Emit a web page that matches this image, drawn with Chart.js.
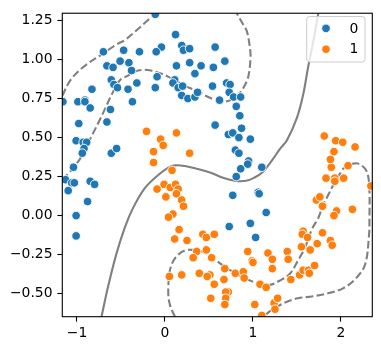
<!DOCTYPE html>
<html>
<head>
<meta charset="utf-8">
<script src="https://cdn.jsdelivr.net/npm/chart.js@4.4.1/dist/chart.umd.min.js"></script>
<style>
html,body{margin:0;padding:0;background:#fff;}
canvas{display:block;}
</style>
</head>
<body>
<canvas id="c" width="381" height="351"></canvas>
<script>
// ---------- data ----------
const categories = ['0', '1'];
const seriesColors = ['#1f77b4', '#ff7f0e'];

const xTicks = [-1, 0, 1, 2];
const yTicks = [-0.5, -0.25, 0, 0.25, 0.5, 0.75, 1, 1.25];
const xLimits = [-1.167, 2.356];
const yLimits = [-0.648, 1.297];

const class0Points = [
 [-0.11,1.29],[-0.04,1.08],[-0.10,1.05],[-0.47,1.06],[-0.29,1.05],[-0.70,1.05],[-0.51,0.99],[-0.41,0.98],
 [-0.66,0.96],[-0.59,0.95],[-0.38,0.93],[-0.09,0.89],[-0.61,0.87],[-0.58,0.84],[-0.54,0.82],[-0.32,0.85],
 [-0.42,0.81],[-0.11,0.82],[-0.83,0.81],[-0.37,0.73],[-1.16,0.73],[-0.99,0.73],[-0.91,0.74],[-0.91,0.73],
 [-0.85,0.69],[-0.62,0.68],[-0.66,0.60],[-0.98,0.59],[-1.01,0.48],[-0.93,0.47],[-0.89,0.47],[-0.92,0.43],
 [-0.94,0.40],[-0.61,0.40],[-0.55,0.43],[-1.04,0.31],[0.12,1.16],[0.19,1.09],[0.21,1.06],[0.28,1.07],
 [0.57,1.08],[0.13,0.96],[0.28,0.98],[0.41,0.96],[0.34,0.91],[0.55,0.95],[0.68,0.99],[0.11,0.87],
 [0.09,0.85],[0.15,0.82],[0.20,0.83],[0.19,0.77],[0.26,0.75],[0.34,0.76],[0.37,0.79],[0.54,0.83],
 [0.70,0.85],[0.74,0.84],[0.73,0.79],[0.78,0.76],[0.86,0.76],[0.62,0.74],[0.81,0.70],[0.85,0.64],
 [0.57,0.58],[0.87,0.56],[0.72,0.52],[0.77,0.53],[0.84,0.50],[0.97,0.49],[0.80,0.42],[0.84,0.40],
 [0.95,0.35],[0.94,0.33],[1.10,0.31],[0.86,0.30],[0.81,0.25],[0.77,0.13],[1.06,0.15],[1.07,0.14],
 [1.15,0.02],[0.73,-0.07],[0.97,-0.05],[1.03,-0.14],[-1.13,0.23],[-1.06,0.21],[-1.03,0.21],[-0.85,0.22],
 [-0.80,0.20],[-1.10,0.16],[-0.88,0.09],[-1.01,0.00],[-1.01,-0.13]
];

const class1Points = [
 [-0.21,0.54],[-0.05,0.49],[-0.02,0.45],[-0.13,0.41],[-0.13,0.34],[0.13,0.53],[0.28,0.40],[0.08,0.29],
 [-0.01,0.20],[-0.09,0.17],[0.06,0.18],[0.12,0.20],[0.15,0.17],[0.01,0.12],[0.13,0.14],[0.19,0.10],
 [0.21,0.06],[0.09,0.01],[0.04,-0.01],[0.16,-0.09],[0.11,-0.15],[0.25,-0.16],[0.43,-0.12],[0.47,-0.14],
 [0.56,-0.12],[0.36,-0.23],[0.47,-0.22],[0.32,-0.27],[0.53,-0.27],[0.94,-0.23],[0.99,-0.29],[1.00,-0.30],
 [1.17,-0.24],[0.68,-0.34],[0.39,-0.37],[0.51,-0.38],[0.48,-0.39],[0.80,-0.37],[0.89,-0.36],[0.05,-0.39],
 [0.19,-0.38],[0.67,-0.41],[0.90,-0.40],[0.56,-0.44],[1.08,-0.44],[1.15,-0.46],[0.72,-0.49],[0.69,-0.49],
 [0.69,-0.53],[0.52,-0.53],[0.68,-0.57],[1.02,-0.57],[1.10,-0.64],[1.24,-0.56],[1.28,-0.53],[1.25,-0.60],
 [1.22,-0.28],[1.22,-0.34],[1.39,-0.23],[1.40,-0.28],[1.43,-0.41],[1.53,-0.38],[1.57,-0.35],[1.63,-0.35],
 [1.64,-0.37],[1.70,-0.32],[1.55,-0.20],[1.65,-0.22],[1.73,-0.18],[1.57,-0.10],[1.56,-0.12],[1.62,-0.14],
 [1.79,-0.11],[1.88,-0.16],[1.90,-0.19],[1.72,0.10],[1.76,0.12],[1.79,0.06],[1.95,0.03],[1.92,0.00],
 [2.13,0.04],[1.83,0.24],[1.93,0.24],[1.93,0.22],[2.03,0.24],[2.34,0.19],[1.89,0.31],[2.08,0.32],
 [1.81,0.51],[1.94,0.48],[2.02,0.47],[2.16,0.44],[1.92,0.41],[1.88,0.36]
];

// decision boundary (level 0)
const boundaryLine = [
 [-0.722,-0.650],[-0.648,-0.458],[-0.553,-0.247],[-0.458,-0.078],[-0.364,0.048],[-0.231,0.175],
 [-0.080,0.259],[0.034,0.306],[0.114,0.322],[0.227,0.318],[0.341,0.303],[0.511,0.277],[0.659,0.242],
 [0.807,0.222],[0.920,0.223],[1.011,0.242],[1.102,0.274],[1.216,0.354],[1.307,0.428],[1.386,0.483],
 [1.500,0.628],[1.572,0.780],[1.628,0.956],[1.685,1.114],[1.742,1.297]
];
// margin lines (levels -1 / +1)
const marginOuterTop = [
 [-1.167,0.768],[-1.074,0.869],[-0.920,0.956],[-0.716,1.034],[-0.549,1.097],[-0.458,1.124],
 [-0.341,1.179],[-0.227,1.236],[-0.108,1.297]
];
const marginInnerTop = [
 [-1.167,0.230],[-1.080,0.281],[-1.028,0.318],[-0.966,0.363],[-0.886,0.451],[-0.818,0.527],
 [-0.739,0.616],[-0.670,0.698],[-0.602,0.780],[-0.515,0.866],[-0.432,0.894],[-0.341,0.923],
 [-0.250,0.934],[-0.159,0.930],[-0.057,0.913],[0.034,0.891],[0.133,0.861],[0.227,0.831],
 [0.322,0.808],[0.398,0.787],[0.511,0.755],[0.648,0.731],[0.758,0.743],[0.852,0.787],
 [0.903,0.831],[0.947,0.892],[0.972,1.008],[0.966,1.072],[0.932,1.179],[0.890,1.223],[0.815,1.297]
];
const marginBottom = [
 [0.114,-0.650],[0.057,-0.574],[0.0375,-0.500],[0.049,-0.373],[0.080,-0.308],[0.136,-0.258],
 [0.227,-0.223],[0.318,-0.220],[0.409,-0.229],[0.511,-0.258],[0.6625,-0.321],[0.815,-0.373],
 [0.966,-0.416],[1.080,-0.440],[1.193,-0.444],[1.307,-0.416],[1.420,-0.373],[1.511,-0.289],
 [1.591,-0.205],[1.670,-0.087],[1.742,-0.015],[1.799,0.070],[1.856,0.133],[1.913,0.196],
 [1.969,0.249],[2.026,0.301],[2.083,0.322],[2.140,0.333],[2.197,0.333],[2.273,0.301],
 [2.310,0.249],[2.324,0.154],[2.324,-0.004],[2.318,-0.131],[2.273,-0.315],[2.159,-0.409],
 [2.023,-0.466],[1.875,-0.495],[1.682,-0.517],[1.511,-0.530],[1.386,-0.552],[1.273,-0.584],
 [1.193,-0.612],[1.119,-0.650]
];

// ---------- chart ----------
const FONT = {family: 'DejaVu Sans', size: 13.9};
const toXY = arr => arr.map(p => ({x: p[0], y: p[1]}));
const contourColor = 'rgba(0,0,0,0.5)';
const lineDS = (arr, dashed) => ({
  data: toXY(arr), showLine: true, pointRadius: 0, pointHoverRadius: 0,
  borderColor: contourColor, borderWidth: 2.1, borderDash: dashed ? [7.7, 3.3] : [],
  tension: 0.35, fill: false, clip: 0
});
const pointDS = (arr, i) => ({
  label: categories[i], data: toXY(arr), showLine: false,
  pointRadius: 4.3, pointBorderWidth: 0.9, pointBorderColor: '#ffffff',
  pointBackgroundColor: seriesColors[i], backgroundColor: seriesColors[i], clip: 0
});

const framePlugin = {
  id: 'frame',
  afterDraw(chart) {
    const {ctx, chartArea: a} = chart;
    ctx.save();
    ctx.strokeStyle = '#000';
    ctx.lineWidth = 1.1;
    ctx.strokeRect(a.left, a.top, a.right - a.left, a.bottom - a.top);
    // legend
    const bx = 306.7, by = 16.5, bw = 58.3, bh = 45.5, r = 2.8;
    ctx.beginPath();
    ctx.moveTo(bx + r, by);
    ctx.arcTo(bx + bw, by, bx + bw, by + bh, r);
    ctx.arcTo(bx + bw, by + bh, bx, by + bh, r);
    ctx.arcTo(bx, by + bh, bx, by, r);
    ctx.arcTo(bx, by, bx + bw, by, r);
    ctx.closePath();
    ctx.fillStyle = 'rgba(255,255,255,0.8)';
    ctx.fill();
    ctx.strokeStyle = '#cccccc';
    ctx.lineWidth = 1;
    ctx.stroke();
    ctx.font = FONT.size + 'px "' + FONT.family + '"';
    ctx.textBaseline = 'middle';
    ctx.textAlign = 'left';
    categories.forEach((c, i) => {
      const cy = 28.4 + i * 20.8;
      ctx.beginPath();
      ctx.arc(326, cy, 4.3, 0, Math.PI * 2);
      ctx.fillStyle = seriesColors[i];
      ctx.fill();
      ctx.lineWidth = 0.9;
      ctx.strokeStyle = '#fff';
      ctx.stroke();
      ctx.fillStyle = '#000';
      ctx.fillText(c, 349.6, cy + 0.5);
    });
    ctx.restore();
  }
};

const fmtY = v => (v < 0 ? '\u2212' : '') + Math.abs(v).toFixed(2);
const fmtX = v => (v < 0 ? '\u2212' : '') + Math.abs(v).toFixed(0);

new Chart(document.getElementById('c'), {
  type: 'scatter',
  data: {
    datasets: [
      pointDS(class0Points, 0),
      pointDS(class1Points, 1),
      lineDS(boundaryLine, false),
      lineDS(marginOuterTop, true),
      lineDS(marginInnerTop, true),
      lineDS(marginBottom, true)
    ]
  },
  options: {
    responsive: false,
    devicePixelRatio: 1,
    animation: false,
    layout: {padding: {left: 0, top: 9.3, right: 8.7, bottom: 0}},
    plugins: {legend: {display: false}, tooltip: {enabled: false}},
    scales: {
      x: {
        type: 'linear', min: xLimits[0], max: xLimits[1],
        afterBuildTicks: s => { s.ticks = xTicks.map(v => ({value: v})); },
        afterFit: s => { s.height = 34.3; },
        border: {display: false},
        grid: {display: true, drawOnChartArea: false, drawTicks: true, tickLength: 4.9, tickColor: '#000', tickWidth: 1.1},
        ticks: {color: '#000', font: FONT, padding: 3.5, maxRotation: 0, autoSkip: false, callback: v => fmtX(v)}
      },
      y: {
        type: 'linear', min: yLimits[0], max: yLimits[1],
        afterBuildTicks: s => { s.ticks = yTicks.map(v => ({value: v})); },
        afterFit: s => { s.width = 62.3; },
        border: {display: false},
        grid: {display: true, drawOnChartArea: false, drawTicks: true, tickLength: 4.9, tickColor: '#000', tickWidth: 1.1},
        ticks: {color: '#000', font: FONT, padding: 4.9, autoSkip: false, callback: v => fmtY(v)}
      }
    }
  },
  plugins: [framePlugin]
});
</script>
</body>
</html>
